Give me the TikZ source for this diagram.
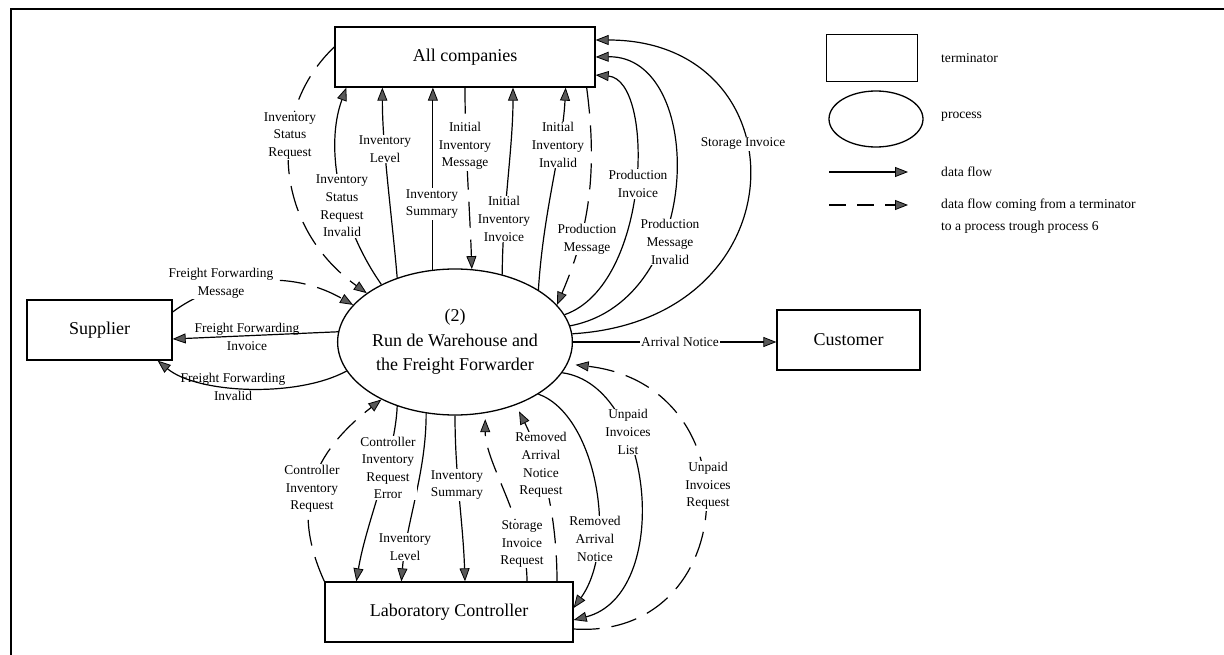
\documentclass[tikz,border=0pt]{standalone}
\usepackage{fontspec}
\setmainfont{Liberation Serif}
\usetikzlibrary{arrows.meta,shapes.geometric}
\begin{document}
\begin{tikzpicture}[x=1pt,y=-1pt,
  box/.style={draw, line width=1.3pt, minimum height=60pt, inner sep=0pt, font=\fontsize{18}{22}\selectfont},
  proc/.style={draw, ellipse, line width=1.3pt, minimum width=234pt, minimum height=146pt, inner sep=0pt, align=center, font=\fontsize{18}{24.5}\selectfont},
  flow/.style={line width=1.2pt, -{Triangle[length=13pt,width=10pt,fill=black!65,line width=0.8pt]}},
  viaproc/.style={flow, dash pattern=on 26pt off 12pt},
  lbl/.style={fill=white, inner sep=1pt, align=center, font=\fontsize{13.4}{17.6}\selectfont},
  lblclear/.style={lbl, fill=none},
  lgtext/.style={anchor=west, align=left, inner sep=0pt, font=\fontsize{13.6}{22}\selectfont},
]
\useasboundingbox (0,0) rectangle (1224,655);
% page frame (top and left rules)
\draw[line width=1.8pt] (1224,9) -- (11,9) -- (11,655);

% terminators and the process
\node[box, minimum width=260pt] (AC) at (465,57) {All companies};
\node[box, minimum width=145pt] (S) at (99.5,330) {Supplier};
\node[box, minimum width=143pt] (C) at (848.5,340) {Customer};
\node[box, minimum width=248pt] (L) at (449,612) {Laboratory Controller};
\node[proc] (P) at (455,342) {(2)\\Run de Warehouse and\\the Freight Forwarder};

% flows between the process and All companies
\draw[viaproc] ([yshift=10pt]AC.west) .. controls +(-67,63) and +(-95,-68) .. (P.151);
\draw[flow] (P.142) .. controls +(-42,-60) and +(-22,60) .. ([xshift=12pt]AC.south west);
\draw[flow] (P.132) .. controls +(-5,-60) and +(0,60) .. ([xshift=48pt]AC.south west);
\draw[flow] (P.107) -- (P.107 |- AC.south);
\draw[viaproc] (AC.south) .. controls +(0,60) and +(-2,-60) .. (P.77);
\draw[flow] (P.55) .. controls +(0,-60) and +(0,60) .. ([xshift=48pt]AC.south);
\draw[flow] (P.32) .. controls +(5,-80) and +(-3,60) .. ([xshift=-30pt]AC.south east);
\draw[viaproc] ([xshift=-9pt]AC.south east) .. controls +(12,90) and +(30,-70) .. (P.20);
\draw[flow] (P.14) .. controls +(86,-30) and +(60,5) .. ([yshift=-18pt]AC.east);
\draw[flow] (P.8) .. controls +(136,-26) and +(110,-2) .. (AC.east);
\draw[flow] (P.4) .. controls +(232,-14) and +(208,0) .. ([yshift=17pt]AC.east);

% flows with the supplier
\draw[viaproc] ([yshift=18pt]S.east) .. controls +(40,-30) and +(-70,-40) .. (P.160);
\draw[flow] (P.175) -- ([yshift=-9pt]S.east);
\draw[flow] (P.195) .. controls +(-50,27) and +(40,33) .. ([xshift=-15pt]S.south east);

% flow to the customer
\draw[flow] (P.0) -- (P.0 -| C.west);

% flows with the laboratory controller
\draw[viaproc] (L.north west) .. controls +(-35,-77) and +(-68,53) .. (P.218);
\draw[flow] (P.228) .. controls +(-2,50) and +(10,-60) .. ([xshift=32pt]L.north west);
\draw[flow] (P.248) .. controls +(0,60) and +(5,-60) .. ([xshift=77pt]L.north west);
\draw[flow] (P.270) .. controls +(0,60) and +(-2,-60) .. ([xshift=16pt]L.north);
\draw[viaproc, shorten >=6pt] ([xshift=78pt]L.north) .. controls +(0,-60) and +(0,50) .. (P.293);
\draw[viaproc, shorten >=7pt] ([xshift=108pt]L.north) .. controls +(0,-80) and +(20,40) .. (P.314);
\draw[flow] (P.328) .. controls +(58,21) and +(45,-63) .. ([yshift=4pt]L.east);
\draw[flow] (P.344) .. controls +(93,13) and +(99,-25) .. ([yshift=-8pt]L.east);
\draw[viaproc, shorten >=8pt] ([yshift=-17pt]L.east) .. controls +(167,11) and +(188,22) .. (P.349);

% flow labels
\node[lbl] (t1) at (290,136) {Inventory\\Status\\Request};
\node[lbl] (t2) at (342,206) {Inventory\\Status\\Request\\Invalid};
\node[lbl] (t3) at (385,149) {Inventory\\Level};
\node[lbl] (t4) at (432,204) {Inventory\\Summary};
\node[lbl] (t5) at (465,146) {Initial\\Inventory\\Message};
\node[lbl] (t6) at (504,219) {Initial\\Inventory\\Invoice};
\node[lbl] (t7) at (558,145) {Initial\\Inventory\\Invalid};
\node[lbl] (t8) at (587,239) {Production\\Message};
\node[lbl] (t9) at (638,184) {Production\\Invoice};
\node[lbl] (t10) at (670,242) {Production\\Message\\Invalid};
\node[lbl] (t11) at (743,144) {Storage Invoice};
\node[lbl] (t12) at (221,283) {Freight Forwarding\\Message};
\node[lblclear] (t13) at (247,337) {Freight Forwarding\\Invoice};
\node[lblclear] (t14) at (233,387) {Freight Forwarding\\Invalid};
\node[lbl] (t15) at (680,342) {Arrival Notice};
\node[lbl] (t16) at (312,489) {Controller\\Inventory\\Request};
\node[lbl] (t17) at (388,468) {Controller\\Inventory\\Request\\Error};
\node[lbl] (t18) at (405,547) {Inventory\\Level};
\node[lbl] (t19) at (457,485) {Inventory\\Summary};
\node[lbl] (t20) at (522,544) {Storage\\Invoice\\Request};
\node[lbl] (t21) at (541,465) {Removed\\Arrival\\Notice\\Request};
\node[lbl] (t22) at (595,539) {Removed\\Arrival\\Notice};
\node[lbl] (t23) at (628,432) {Unpaid\\Invoices\\List};
\node[lbl] (t24) at (708,486) {Unpaid\\Invoices\\Request};

% legend
\node[box, minimum width=91pt, minimum height=47pt] (lgT) at (872,58) {};
\node[lgtext] (lgTt) at (941,58) {terminator};
\node[draw, ellipse, line width=1.3pt, minimum width=94pt, minimum height=56pt, inner sep=0pt] (lgP) at (876,119) {};
\node[lgtext] (lgPt) at (941,117) {process};
\coordinate (lgF1) at (829,172);
\coordinate (lgF2) at (908,172);
\draw[flow] (lgF1) -- (lgF2);
\node[lgtext] (lgFt) at (941,172) {data flow};
\coordinate (lgD1) at (829,205);
\coordinate (lgD2) at (908,205);
\draw[viaproc, dash pattern=on 17pt off 11pt] (lgD1) -- (lgD2);
\node[lgtext] (lgDt) at (941,216) {data flow coming from a terminator\\to a process trough process 6};
\end{tikzpicture}
\end{document}
